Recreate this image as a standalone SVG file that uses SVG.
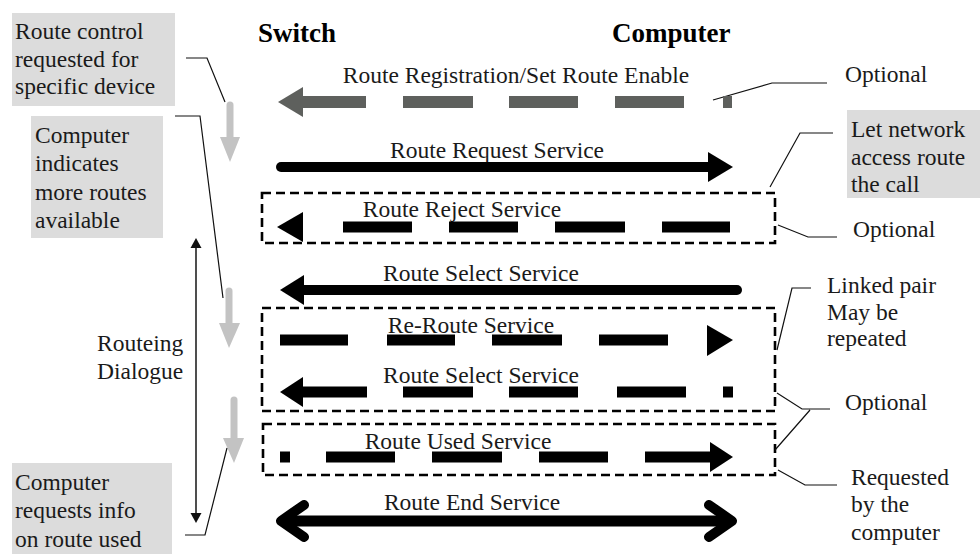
<svg xmlns="http://www.w3.org/2000/svg" width="980" height="554" viewBox="0 0 980 554">
<style>
text{font-family:"Liberation Serif","Times New Roman",serif;font-size:23.5px;fill:#1a1a1a}
.hdr{font-size:27px;font-weight:bold;fill:#000}
.note{fill:#dcdcdc}
.thin{fill:none;stroke:#111;stroke-width:1.2}
.grey{stroke:#c3c3c3;stroke-width:7;stroke-linecap:round;fill:none}
.greyh{fill:#c3c3c3}
.dbox{fill:none;stroke:#000;stroke-width:2.6;stroke-dasharray:9 5}
.sh{fill:none;stroke:#000;stroke-width:11}
.hd{fill:#000}
.c{text-anchor:middle}
</style>
<rect width="980" height="554" fill="#fff"/>

<g id="header-switch"><text class="hdr" x="258" y="42">Switch</text></g>
<g id="header-computer"><text class="hdr" x="612" y="42">Computer</text></g>

<g id="note-route-control">
<rect class="note" x="12" y="13" width="163" height="93"/>
<text x="15" y="39">Route control</text>
<text x="15" y="67">requested for</text>
<text x="15" y="94">specific device</text>
</g>
<g id="note-more-routes">
<rect class="note" x="31" y="116" width="132" height="122"/>
<text x="35" y="143">Computer</text>
<text x="35" y="171">indicates</text>
<text x="35" y="200">more routes</text>
<text x="35" y="228">available</text>
</g>
<g id="note-requests-info">
<rect class="note" x="12" y="463" width="160" height="91"/>
<text x="15" y="490">Computer</text>
<text x="15" y="518">requests info</text>
<text x="15" y="547">on route used</text>
</g>
<g id="routeing-dialogue">
<text x="97" y="351">Routeing</text>
<text x="97" y="379">Dialogue</text>
<line x1="196" y1="246" x2="196" y2="515" stroke="#222" stroke-width="1.6"/>
<polygon points="196,238 190.5,248 201.5,248" fill="#111"/>
<polygon points="196,523 190.5,513 201.5,513" fill="#111"/>
</g>

<g id="grey-arrows">
<line class="grey" x1="230" y1="105" x2="230" y2="139"/>
<polygon class="greyh" points="220,137 240,137 230,162"/>
<line class="grey" x1="229" y1="291" x2="229" y2="325"/>
<polygon class="greyh" points="219,323 240,323 229,348"/>
<line class="grey" x1="234" y1="400" x2="234" y2="440"/>
<polygon class="greyh" points="223,438 244,438 234,463"/>
</g>

<g id="right-notes">
<text x="845" y="82">Optional</text>
<rect class="note" x="847" y="110" width="133" height="88"/>
<text x="851" y="137">Let network</text>
<text x="851" y="165">access route</text>
<text x="851" y="192">the call</text>
<text x="853" y="237">Optional</text>
<text x="827" y="293">Linked pair</text>
<text x="827" y="320">May be</text>
<text x="827" y="346">repeated</text>
<text x="845" y="410">Optional</text>
<text x="851" y="485">Requested</text>
<text x="851" y="512">by the</text>
<text x="851" y="540">computer</text>
</g>

<g id="optional-boxes">
<rect class="dbox" x="262" y="193" width="513" height="50"/>
<rect class="dbox" x="262" y="308" width="513" height="103"/>
<rect class="dbox" x="263" y="424" width="512" height="51"/>
</g>

<g id="connectors">
<path class="thin" d="M186 58H207L225 102"/>
<path class="thin" d="M175 116H200L223 298"/>
<path class="thin" d="M185 535H205L227 448"/>
<path class="thin" d="M713 100L772 83H827"/>
<path class="thin" d="M770 187L800 133H833"/>
<path class="thin" d="M778 225L808 237H837"/>
<path class="thin" d="M777 350L792 288H811"/>
<path class="thin" d="M777 393L802 409H830M775 450L810 410"/>
<path class="thin" d="M778 470L805 485H837"/>
</g>

<g id="msg-registration">
<text class="c" x="516" y="83">Route Registration/Set Route Enable</text>
<polygon points="278,102 303,87 303,117" fill="#5e605d"/>
<path d="M300 102H366M403 102H473M509 102H578M615 102H684M723 102H732" stroke="#5e605d" stroke-width="12" fill="none"/>
</g>
<g id="msg-route-request">
<text class="c" x="497" y="158">Route Request Service</text>
<line x1="281" y1="167" x2="710" y2="167" stroke="#000" stroke-width="10" stroke-linecap="round"/>
<polygon class="hd" points="708,152 733,167 708,182"/>
</g>
<g id="msg-route-reject">
<text class="c" x="462" y="217">Route Reject Service</text>
<polygon class="hd" points="277,227 303,212 303,242"/>
<path class="sh" d="M343 227H412M449 227H518M555 227H625M662 227H730"/>
</g>
<g id="msg-route-select-1">
<text class="c" x="481" y="281">Route Select Service</text>
<polygon class="hd" points="280,290 304,275 304,305"/>
<line x1="300" y1="290" x2="737" y2="290" stroke="#000" stroke-width="10" stroke-linecap="round"/>
</g>
<g id="msg-re-route">
<text class="c" x="471" y="333">Re-Route Service</text>
<path class="sh" d="M280 340H348M387 340H455M492 340H562M599 340H668"/>
<polygon class="hd" points="707,325 733,340 707,356"/>
</g>
<g id="msg-route-select-2">
<text class="c" x="481" y="383">Route Select Service</text>
<polygon class="hd" points="280,392 303,377 303,407"/>
<path class="sh" d="M300 392H367M403 392H473M509 392H578M617 392H686M723 392H733"/>
</g>
<g id="msg-route-used">
<text class="c" x="458" y="449">Route Used Service</text>
<path class="sh" d="M280 457H290M326 457H395M432 457H502M539 457H608M645 457H712"/>
<polygon class="hd" points="710,442 733,457 710,472"/>
</g>
<g id="msg-route-end">
<text class="c" x="472" y="510">Route End Service</text>
<line x1="284" y1="521" x2="729" y2="521" stroke="#000" stroke-width="11"/>
<polyline points="304,505 281,521 304,537" fill="none" stroke="#000" stroke-width="10" stroke-linecap="round" stroke-linejoin="round"/>
<polyline points="709,505 732,521 709,537" fill="none" stroke="#000" stroke-width="10" stroke-linecap="round" stroke-linejoin="round"/>
</g>
</svg>
